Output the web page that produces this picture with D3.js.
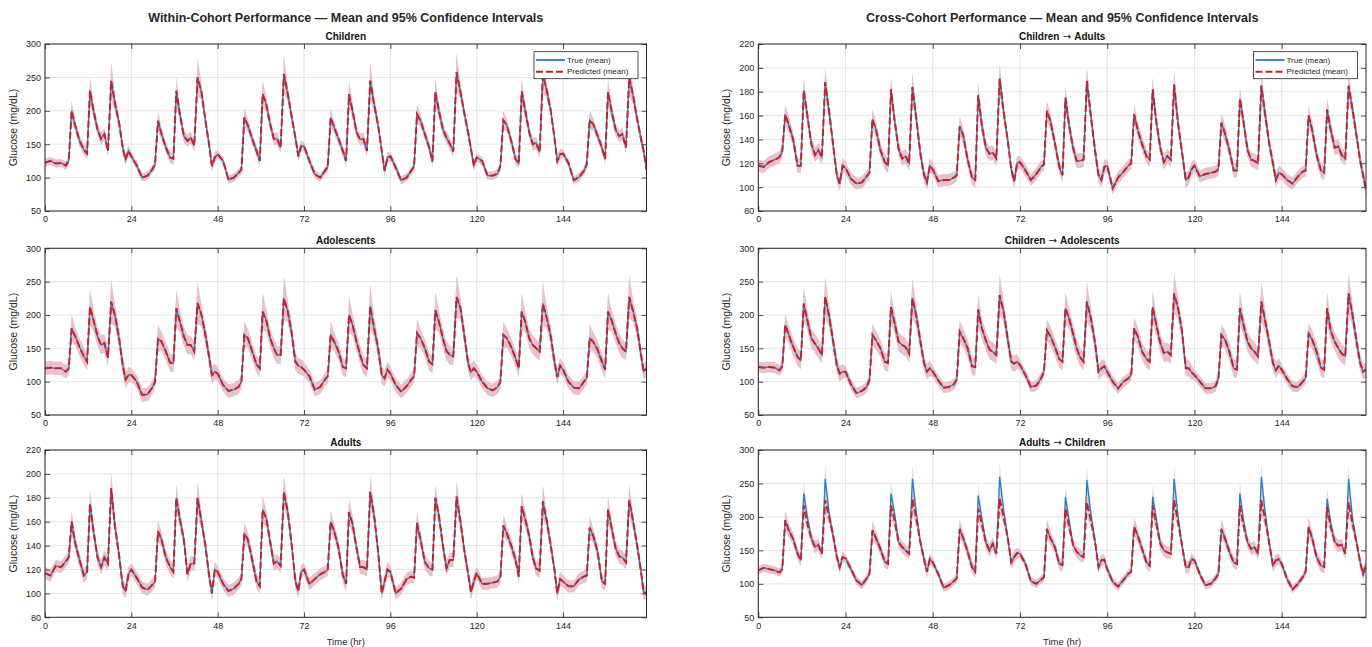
<!DOCTYPE html>
<html>
<head>
<meta charset="utf-8">
<title>Glucose prediction - mean and 95% CI</title>
<script src="https://cdn.jsdelivr.net/npm/d3@7"></script>
<style>
  body { margin: 0; background: #fff; }
  svg { font-family: "Liberation Sans", Arial, Helvetica, sans-serif; }
</style>
</head>
<body>
<script>

// ---- data ----
// every day is sampled at the same hours of the day
var dayStart = [0, 24, 48, 72, 96, 120, 144];
var dayHours = [0, 1.5, 3, 4.5, 5.8, 6.6, 7.4, 8.4, 9.6, 10.8, 11.7, 12.5, 13.5, 14.6, 15.6, 16.5, 17.5, 18.4, 19.5, 20.6, 21.6, 22.4, 23.2];
var xTicks = [0, 24, 48, 72, 96, 120, 144];
var yTicksWide = [50, 100, 150, 200, 250, 300];
var yTicksNarrow = [80, 100, 120, 140, 160, 180, 200, 220];

var children = [
  [122,125,121,122,118,125,200,178,155,142,136,230,200,172,158,165,140,245,210,182,145,127,140],
  [132,118,100,103,112,120,185,165,145,130,128,230,195,162,155,160,148,250,228,185,150,117,130],
  [135,125,97,100,107,112,190,178,158,140,125,225,210,180,158,158,145,255,225,190,160,132,147],
  [147,125,105,100,110,116,190,175,158,140,125,225,200,168,157,158,140,245,210,178,140,110,130],
  [132,115,96,100,110,117,195,185,165,145,124,228,200,172,160,151,139,258,228,195,168,143,118],
  [130,125,103,103,106,118,186,178,155,128,121,229,200,168,150,152,138,254,230,200,160,125,135],
  [136,122,96,101,110,120,186,180,163,145,128,228,200,172,162,165,145,250,222,188,160,140,112]
];
var adolescents = [
  [120,121,120,120,115,120,180,168,152,138,130,212,192,168,155,158,136,220,198,165,125,103,110],
  [110,100,80,81,91,100,165,160,145,128,128,210,190,168,155,155,145,218,200,170,138,110,115],
  [112,95,86,88,92,100,170,165,145,126,120,205,192,165,150,140,140,225,205,172,130,124,122],
  [118,108,88,92,103,108,170,160,145,122,120,200,185,160,140,125,120,213,180,150,110,105,118],
  [112,95,85,93,103,108,173,165,150,130,126,207,190,165,146,140,138,227,210,168,128,114,120],
  [115,100,90,87,92,100,170,165,152,135,120,205,190,165,155,150,145,217,195,168,130,107,124],
  [118,100,91,90,100,105,165,160,148,130,118,205,192,173,158,150,145,227,205,180,143,115,120]
];
var adults = [
  [117,115,123,122,127,130,160,142,128,115,118,175,152,130,122,130,125,188,155,132,106,102,116],
  [120,113,105,103,107,110,152,145,130,122,118,180,162,145,116,125,125,180,160,140,115,100,120],
  [118,108,102,104,108,112,150,145,128,110,106,170,163,143,125,127,123,185,168,140,110,102,118],
  [120,108,112,116,118,120,160,152,138,115,108,168,158,138,122,122,120,185,165,135,100,110,120],
  [118,100,104,112,114,113,159,145,126,121,120,180,165,140,121,128,128,181,160,135,117,101,110],
  [117,108,108,109,110,114,157,150,140,128,114,173,162,148,130,121,119,177,160,140,120,100,112],
  [110,106,106,112,114,115,155,148,135,110,108,170,155,138,131,130,126,178,160,140,120,101,100]
];
var childToAdult = [
  [118,117,121,123,125,130,161,152,140,118,118,181,160,136,127,131,125,188,163,135,110,103,118],
  [116,107,103,104,109,112,157,148,131,121,118,182,156,132,124,126,120,184,157,128,110,104,118],
  [115,105,106,106,108,110,151,143,123,108,106,177,152,133,128,129,124,191,163,140,115,105,120],
  [121,114,106,111,117,119,164,155,137,117,110,175,152,133,122,122,123,189,160,132,110,106,117],
  [118,99,108,113,118,120,161,148,136,126,123,182,155,133,121,126,123,186,153,129,106,108,115],
  [118,109,111,112,113,115,154,145,131,114,114,174,155,131,123,122,120,185,160,136,120,106,112],
  [111,106,103,109,113,114,160,148,127,114,112,165,148,133,134,127,124,185,165,143,122,110,98]
];
var childToAdol = [
  [122,121,122,121,117,123,185,170,152,137,132,217,192,165,157,150,140,227,198,160,125,112,115],
  [115,96,83,86,92,103,170,162,150,130,128,212,188,160,155,152,142,225,198,160,128,115,120],
  [115,102,91,92,96,103,175,165,150,123,122,208,180,162,148,145,140,230,205,165,130,127,130],
  [125,110,92,94,105,115,177,168,152,134,130,210,195,172,150,137,130,220,195,160,115,120,123],
  [115,100,90,100,105,110,180,168,145,134,130,212,185,158,143,145,140,232,210,175,120,120,114],
  [110,100,90,90,93,105,170,163,145,120,118,210,185,160,150,145,138,220,190,158,128,117,124],
  [118,104,93,92,100,105,172,163,145,121,118,210,176,160,150,142,138,232,200,160,128,115,118]
];
var adultToChildTrue = [
  [120,124,122,120,117,122,195,180,167,145,135,235,200,168,155,158,145,257,205,172,140,125,140],
  [138,122,105,98,108,115,180,168,152,133,130,235,205,162,155,150,145,257,205,162,137,118,137],
  [132,115,94,98,104,108,182,168,148,125,118,232,198,162,150,160,145,260,210,170,132,140,146],
  [145,130,104,100,106,110,182,168,155,130,128,230,195,158,148,143,140,255,205,165,125,135,136],
  [122,103,96,106,115,118,185,172,152,132,127,230,197,160,150,147,145,257,200,157,125,125,137],
  [135,114,98,100,108,115,182,168,148,132,130,235,195,162,152,155,145,260,205,160,127,135,137],
  [130,107,92,100,110,118,185,168,140,127,125,227,190,163,157,158,145,257,197,162,132,115,128]
];
var adultToChildPred = [
  [120,124,122,120,117,122,195,180,167,145,135,217,190,168,155,158,145,225,200,172,140,125,140],
  [138,122,105,98,108,115,180,168,152,133,130,217,195,162,155,150,145,227,197,162,137,118,137],
  [132,115,94,98,104,108,182,168,148,125,118,212,190,162,150,160,145,227,200,170,132,140,146],
  [145,130,104,100,106,110,182,168,155,130,128,212,187,158,148,143,140,222,195,165,125,135,136],
  [122,103,96,106,115,118,185,172,152,132,127,217,190,160,150,147,145,225,192,157,125,125,137],
  [135,114,98,100,108,115,182,168,148,132,130,217,188,162,152,155,145,225,195,160,127,135,137],
  [130,107,92,100,110,118,185,168,140,127,125,215,185,163,157,158,145,222,190,162,132,115,128]
];

// 95% CI half-width at each hour of the day
var childCI  = [6,6,6,6,6,7,14,9,8,8,8,20,11,9,9,9,8,28,12,9,9,8,8];
var adolCI   = [10,10,10,10,10,10,20,14,13,13,13,28,16,14,14,14,13,32,16,14,13,12,12];
var adultCI  = [5,5,5,5,5,5,9,6,6,6,6,11,7,6,6,6,6,13,7,6,6,6,6];
var c2aCI    = [5,5,5,5,5,5,8,7,6,6,6,10,7,6,6,6,6,12,7,6,6,6,6];
var c2adolCI = [8,8,8,8,8,8,16,14,13,13,13,24,15,14,14,14,13,30,16,14,12,12,11];
var a2cCI    = [6,6,6,6,6,7,14,10,9,9,9,18,11,9,9,9,8,22,11,9,9,9,8];

var hours = d3.merge(dayStart.map(function(d){
  return dayHours.map(function(h){ return d + h; });
}));

var panels = [
  {col:0, row:0, title:['Children'], yDomain:[50,300], yTicks:yTicksWide, truth:children, pred:children, ci:childCI, legend:true},
  {col:0, row:1, title:['Adolescents'], yDomain:[50,300], yTicks:yTicksWide, truth:adolescents, pred:adolescents, ci:adolCI},
  {col:0, row:2, title:['Adults'], yDomain:[80,220], yTicks:yTicksNarrow, truth:adults, pred:adults, ci:adultCI, xlabel:true},
  {col:1, row:0, title:['Children', 'Adults'], yDomain:[80,220], yTicks:yTicksNarrow, truth:childToAdult, pred:childToAdult, ci:c2aCI, legend:true},
  {col:1, row:1, title:['Children', 'Adolescents'], yDomain:[50,300], yTicks:yTicksWide, truth:childToAdol, pred:childToAdol, ci:c2adolCI},
  {col:1, row:2, title:['Adults', 'Children'], yDomain:[50,300], yTicks:yTicksWide, truth:adultToChildTrue, pred:adultToChildPred, ci:a2cCI, xlabel:true}
];

// ---- layout ----
var width = 1372, height = 647;
var cols = [{left:45, right:646.5}, {left:758.3, right:1366}];
var rows = [{top:44, bottom:211}, {top:248.3, bottom:415}, {top:450, bottom:617.3}];
var ink = '#262626';
var blue = '#0a6bbf', red = '#c4232d';

var svg = d3.select('body').append('svg').attr('width', width).attr('height', height);

svg.append('text').attr('x', (cols[0].left + cols[0].right) / 2).attr('y', 22)
  .attr('text-anchor', 'middle').attr('font-size', 12.5).attr('font-weight', 'bold').attr('fill', ink)
  .text('Within-Cohort Performance \u2014 Mean and 95% Confidence Intervals');
svg.append('text').attr('x', (cols[1].left + cols[1].right) / 2).attr('y', 22)
  .attr('text-anchor', 'middle').attr('font-size', 12.5).attr('font-weight', 'bold').attr('fill', ink)
  .text('Cross-Cohort Performance \u2014 Mean and 95% Confidence Intervals');

panels.forEach(function(p, k){
  var c = cols[p.col], r = rows[p.row];
  var w = c.right - c.left, h = r.bottom - r.top;
  var x = d3.scaleLinear().domain([0, 167.2]).range([0, w]);
  var y = d3.scaleLinear().domain(p.yDomain).range([h, 0]);

  var g = svg.append('g').attr('transform', 'translate(' + c.left + ',' + r.top + ')');

  g.append('clipPath').attr('id', 'clip' + k).append('rect').attr('width', w).attr('height', h);

  // grid
  g.append('g').selectAll('line').data(xTicks).enter().append('line')
    .attr('x1', x).attr('x2', x).attr('y1', 0).attr('y2', h)
    .attr('stroke', '#dedede').attr('stroke-width', 0.8);
  g.append('g').selectAll('line').data(p.yTicks).enter().append('line')
    .attr('y1', y).attr('y2', y).attr('x1', 0).attr('x2', w)
    .attr('stroke', '#dedede').attr('stroke-width', 0.8);

  var tv = d3.merge(p.truth), pv = d3.merge(p.pred);
  var pts = hours.map(function(t, i){
    return {t: t, tv: tv[i], pv: pv[i], ci: p.ci[i % p.ci.length]};
  });

  var data = g.append('g').attr('clip-path', 'url(#clip' + k + ')');

  data.append('path').datum(pts)
    .attr('d', d3.area().x(function(d){ return x(d.t); })
      .y0(function(d){ return y(d.tv - d.ci); }).y1(function(d){ return y(d.tv + d.ci); }))
    .attr('fill', '#0072bd').attr('fill-opacity', 0.2);
  data.append('path').datum(pts)
    .attr('d', d3.area().x(function(d){ return x(d.t); })
      .y0(function(d){ return y(d.pv - d.ci); }).y1(function(d){ return y(d.pv + d.ci); }))
    .attr('fill', '#eebcc4').attr('fill-opacity', 0.9);

  data.append('path').datum(pts)
    .attr('d', d3.line().x(function(d){ return x(d.t); }).y(function(d){ return y(d.tv); }))
    .attr('fill', 'none').attr('stroke', blue).attr('stroke-width', 1.3).attr('stroke-opacity', 0.85);
  data.append('path').datum(pts)
    .attr('d', d3.line().x(function(d){ return x(d.t); }).y(function(d){ return y(d.pv); }))
    .attr('fill', 'none').attr('stroke', red).attr('stroke-width', 2).attr('stroke-dasharray', '7,3');

  // axes with inward ticks on all four sides
  var ax = g.append('g').attr('transform', 'translate(0,' + h + ')')
    .call(d3.axisBottom(x).tickValues(xTicks).tickSizeInner(-5).tickSizeOuter(0).tickPadding(5));
  var ay = g.append('g')
    .call(d3.axisLeft(y).tickValues(p.yTicks).tickSizeInner(-5).tickSizeOuter(0).tickPadding(4));
  var axt = g.append('g')
    .call(d3.axisTop(x).tickValues(xTicks).tickSizeInner(-5).tickSizeOuter(0).tickFormat(''));
  var ayr = g.append('g').attr('transform', 'translate(' + w + ',0)')
    .call(d3.axisRight(y).tickValues(p.yTicks).tickSizeInner(-5).tickSizeOuter(0).tickFormat(''));
  [ax, ay, axt, ayr].forEach(function(a){
    a.select('.domain').remove();
    a.selectAll('line').attr('stroke', ink).attr('stroke-width', 0.8);
    a.selectAll('text').attr('fill', ink).attr('font-size', 9).attr('font-family', null);
  });

  g.append('rect').attr('width', w).attr('height', h)
    .attr('fill', 'none').attr('stroke', ink).attr('stroke-width', 1);

  var tt = g.append('text').attr('x', w / 2).attr('y', -4.5).attr('text-anchor', 'middle')
    .attr('font-size', 10).attr('font-weight', 'bold').attr('fill', '#111');
  tt.append('tspan').text(p.title[0]);
  if (p.title.length > 1) {
    tt.append('tspan').attr('font-family', 'DejaVu Sans').attr('font-weight', 'normal').text(' \u2192 ');
    tt.append('tspan').text(p.title[1]);
  }

  g.append('text').attr('transform', 'translate(-28,' + (h / 2) + ') rotate(-90)')
    .attr('text-anchor', 'middle').attr('font-size', 10.5).attr('fill', ink).text('Glucose (mg/dL)');

  if (p.xlabel) {
    g.append('text').attr('x', w / 2).attr('y', h + 27.5).attr('text-anchor', 'middle')
      .attr('font-size', 9.5).attr('fill', ink).text('Time (hr)');
  }

  if (p.legend) {
    var lw = 104, lh = 27;
    var lg = g.append('g').attr('transform', 'translate(' + (w - 8.5 - lw) + ',7.7)');
    lg.append('rect').attr('width', lw).attr('height', lh)
      .attr('fill', '#fff').attr('stroke', ink).attr('stroke-width', 0.8);
    lg.append('line').attr('x1', 2).attr('x2', 31).attr('y1', 8.3).attr('y2', 8.3)
      .attr('stroke', blue).attr('stroke-width', 1.6);
    lg.append('line').attr('x1', 2).attr('x2', 31).attr('y1', 20).attr('y2', 20)
      .attr('stroke', red).attr('stroke-width', 2).attr('stroke-dasharray', '7,3');
    lg.append('text').attr('x', 33).attr('y', 11).attr('font-size', 8).attr('fill', ink).text('True (mean)');
    lg.append('text').attr('x', 33).attr('y', 22.7).attr('font-size', 8).attr('fill', ink).text('Predicted (mean)');
  }
});

</script>
</body>
</html>
